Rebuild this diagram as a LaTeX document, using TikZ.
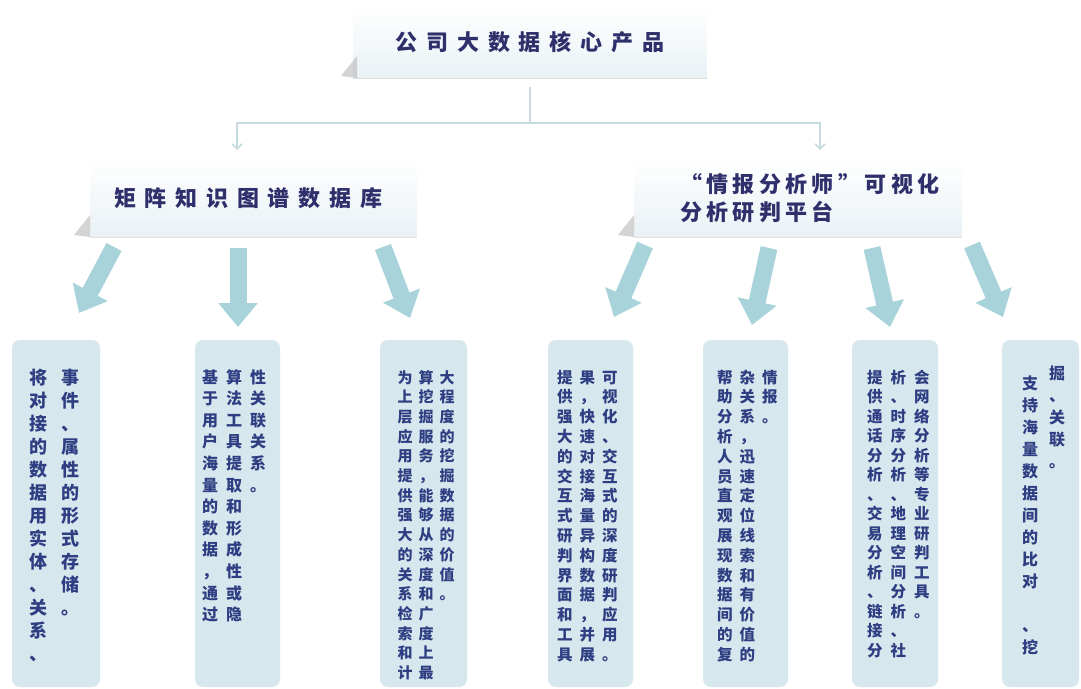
\documentclass[tikz,border=0pt]{standalone}
\usepackage{fontspec}
\setmainfont{Noto Sans CJK SC}
\newfontfamily\headfont{Noto Sans CJK SC}[LetterSpace=40]
\newfontfamily\platfont{Noto Sans CJK SC}[LetterSpace=20]
\usetikzlibrary{arrows.meta}
\definecolor{HeadNavy}{HTML}{2E2F6B}
\definecolor{BodyNavy}{HTML}{2F3E82}
\definecolor{HeadFill}{HTML}{E9F1F5}
\definecolor{BoxTeal}{HTML}{D6E8EE}
\definecolor{ArrowTeal}{HTML}{A8D3DB}
\definecolor{LinkGray}{HTML}{C6DBDF}
% one character per row, top to bottom
\newcommand\vcol[1]{\vtop{\vcolstep#1\relax}}
\def\vcolstep#1{\ifx\relax#1\else\hbox{#1}\expandafter\vcolstep\fi}
\newcommand\gap{\kern1em}

\begin{document}
\begin{tikzpicture}[x=1pt,y=-1pt,
    headbox/.style={rectangle, top color=white, bottom color=HeadFill, inner sep=0pt,
      text=HeadNavy, font=\headfont\bfseries\fontsize{22}{28}\selectfont},
    link/.style={LinkGray, line width=1.6pt},
    bigarrow/.style={ArrowTeal, line width=17pt, -{Triangle[length=24pt,width=38pt]}},
    colbox/.style={BoxTeal, rounded corners=8pt},
    coltext/.style={text=BodyNavy, inner sep=0pt, anchor=base west},
    curl/.style={gray!60, opacity=.55}]
  \useasboundingbox (0,0) rectangle (1081,688);
  \fill[white] (0,0) rectangle (1081,688);

  % heads
  \node[headbox, minimum width=353pt, minimum height=71pt] (top) at (530,42.5) {公司大数据核心产品};
  \node[headbox, minimum width=327pt, minimum height=77pt, text width=279pt, align=left,
    inner xsep=24pt] (lib) at (253.5,198.5) {矩阵知识图谱数据库};
  \node[headbox, minimum width=328pt, minimum height=77pt, text width=272pt, align=left,
    inner xsep=28pt, font=\platfont\bfseries\fontsize{22}{28}\selectfont] (plat) at (798,198.5)
    {\hspace*{18pt}“情报分析师”可视化\\\hspace*{18pt}分析研判平台};
  \foreach \n in {top,lib,plat} {
    \draw[gray!25, line width=1.2pt] (\n.south west) -- (\n.south east);
  }
  \foreach \x/\y in {357/78, 90/237, 634/237} {
    \fill[curl] (\x,\y) -- (\x,\y-22) .. controls (\x-8,\y-12) and (\x-13,\y-6) .. (\x-16,\y-2) -- cycle;
  }

  % thin connectors
  \coordinate (split) at (530,123);
  \coordinate (libin) at (237,150);
  \coordinate (platin) at (820,150);
  \draw[link] ([yshift=-9pt]top.south) -- (split);
  \draw[link, -{Straight Barb[length=5pt,width=10pt]}] (split) -| (libin);
  \draw[link, -{Straight Barb[length=5pt,width=10pt]}] (split) -| (platin);

  % big arrows
  \foreach \i/\sx/\sy/\ex/\ey in {1/114/247/79/313, 2/238/248/238/327, 3/383/247/410/318,
      4/645/245/614/317, 5/769/248/752/325, 6/872/248/890/327, 7/972/245/1003/317} {
    \coordinate (s\i) at (\sx,\sy);
    \coordinate (e\i) at (\ex,\ey);
    \draw[bigarrow] (s\i) -- (e\i);
  }

  % columns
  \foreach \xa/\xb in {12/100, 195/280, 380/467, 548/633, 703/788, 852/938, 1002/1079}
    \fill[colbox] (\xa,340) rectangle (\xb,687);

  \node[coltext, font=\bfseries\fontsize{18}{23}\selectfont] (d1) at (29,384)
    {\vcol{将对接的数据用实体、关系、}\hskip14pt\vcol{事件、属性的形式存储。}};
  \node[coltext, font=\bfseries\fontsize{16}{21.6}\selectfont] (d2) at (202,383)
    {\vcol{基于用户海量的数据，通过}\hskip8pt\vcol{算法工具提取和形成性或隐}\hskip8pt\vcol{性关联关系。}};
  \node[coltext, font=\bfseries\fontsize{15}{19.7}\selectfont] (d3) at (397.5,383)
    {\vcol{为上层应用提供强大的关系检索和计}\hskip6pt\vcol{算挖掘服务，能够从深度和广度上最}\hskip6pt\vcol{大程度的挖掘数据的价值。}};
  \node[coltext, font=\bfseries\fontsize{15.5}{19.8}\selectfont] (d4) at (557,383)
    {\vcol{提供强大的交互式研判界面和工具}\hskip7pt\vcol{果，快速对接海量异构数据，并展}\hskip7pt\vcol{可视化、交互式的深度研判应用。}};
  \node[coltext, font=\bfseries\fontsize{15.5}{19.8}\selectfont] (d5) at (717,383)
    {\vcol{帮助分析人员直观展现数据间的复}\hskip7pt\vcol{杂关系，迅速定位线索和有价值的}\hskip7pt\vcol{情报。}};
  \node[coltext, font=\bfseries\fontsize{15.5}{19.5}\selectfont] (d6) at (867,383)
    {\vcol{提供通话分析、交易分析、链接分}\hskip8pt\vcol{析、时序分析、地理空间分析、社}\hskip8pt\vcol{会网络分析等专业研判工具。}};
  \node[coltext, font=\bfseries\fontsize{16}{22}\selectfont] (d7) at (1022,389)
    {\vcol{支持海量数据间的比对\gap、挖}\hskip11pt\raise10pt\vcol{掘、关联。}};
\end{tikzpicture}
\end{document}
